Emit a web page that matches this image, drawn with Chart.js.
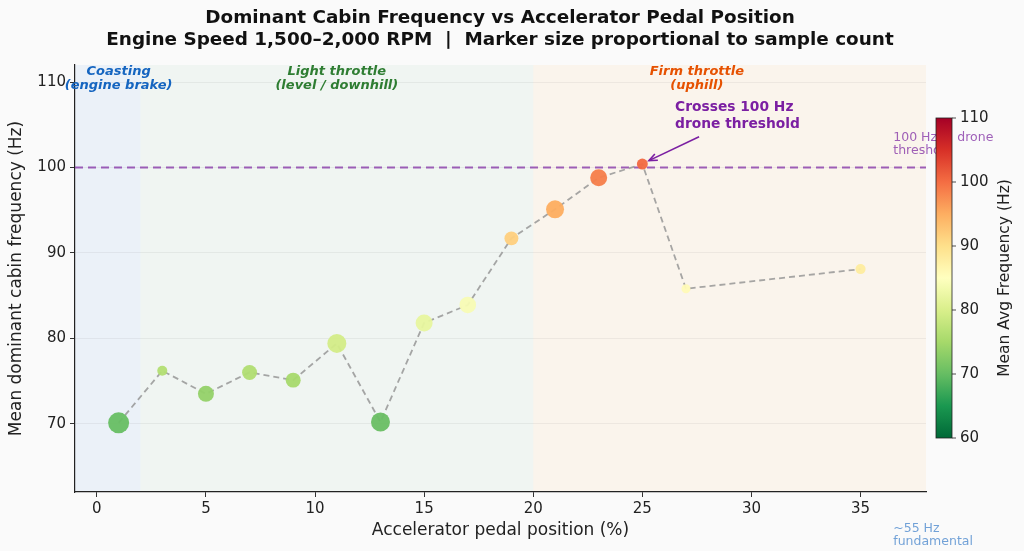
<!DOCTYPE html>
<html>
<head>
<meta charset="utf-8">
<script src="https://cdn.jsdelivr.net/npm/chart.js@4.4.1/dist/chart.umd.min.js"></script>
<style>
  html, body { margin: 0; padding: 0; background: #fafafa; }
  #chart { display: block; }
</style>
</head>
<body>
<canvas id="chart" width="1024" height="551"></canvas>
<script>
// Données
const pedalPos = [1, 3, 5, 7, 9, 11, 13, 15, 17, 19, 21, 23, 25, 27, 35];
const meanFreq = [70.1, 76.2, 73.5, 76.0, 75.1, 79.4, 70.2, 81.8, 83.9, 91.7, 95.1, 98.8, 100.4, 85.8, 88.1];
const sampleCount = [136, 31, 79, 69, 69, 111, 111, 89, 85, 60, 100, 89, 37, 25, 31];

const xTicks = [0, 5, 10, 15, 20, 25, 30, 35];
const yTicks = [70, 80, 90, 100, 110];
const cbTicks = [60, 70, 80, 90, 100, 110];

const zoneNames = ['Coasting', 'Light throttle', 'Firm throttle'];
const zoneSub = ['(engine brake)', '(level / downhill)', '(uphill)'];
const zoneStart = [-1, 2, 20];
const zoneEnd = [2, 20, 38];
const zoneLabelX = [1, 11, 27.5];

const droneThreshold = 100;
const cbMin = 60, cbMax = 110;

const FONT = "'DejaVu Sans', sans-serif";

// RdYlGn inversé (vert = bas, rouge = haut)
const rdylgn = ['#a50026', '#d73027', '#f46d43', '#fdae61', '#fee08b', '#ffffbf',
                '#d9ef8b', '#a6d96a', '#66bd63', '#1a9850', '#006837'];
function hexToRgb(h) {
    return [parseInt(h.slice(1, 3), 16), parseInt(h.slice(3, 5), 16), parseInt(h.slice(5, 7), 16)];
}
function cmap(v, alpha) {
    let t = (v - cbMin) / (cbMax - cbMin);
    t = Math.max(0, Math.min(1, t));
    const u = (1 - t) * (rdylgn.length - 1);
    const i = Math.min(Math.floor(u), rdylgn.length - 2);
    const f = u - i;
    const a = hexToRgb(rdylgn[i]), b = hexToRgb(rdylgn[i + 1]);
    const c = a.map((ch, k) => Math.round(ch + (b[k] - ch) * f));
    return `rgba(${c[0]},${c[1]},${c[2]},${alpha})`;
}

const zoneFill = ['rgba(66,140,230,0.08)', 'rgba(120,180,140,0.07)', 'rgba(255,200,120,0.1)'];
const zoneColor = ['#1565c0', '#2e7d32', '#e65100'];

// Fond + zones
const bandsPlugin = {
    id: 'bands',
    beforeDraw(chart) {
        const ctx = chart.ctx;
        const x = chart.scales.x, area = chart.chartArea;
        ctx.save();
        ctx.fillStyle = '#fafafa';
        ctx.fillRect(0, 0, chart.width, chart.height);
        zoneStart.forEach((s, i) => {
            const x0 = x.getPixelForValue(s), x1 = x.getPixelForValue(zoneEnd[i]);
            ctx.fillStyle = zoneFill[i];
            ctx.fillRect(x0, area.top, x1 - x0, area.bottom - area.top);
        });
        ctx.restore();
    }
};

// Textes, annotation et barre de couleur
const decorPlugin = {
    id: 'decor',
    afterDraw(chart) {
        const ctx = chart.ctx;
        const xs = chart.scales.x, ys = chart.scales.y, area = chart.chartArea;
        ctx.save();

        // Titre
        ctx.fillStyle = '#111';
        ctx.textAlign = 'center';
        ctx.textBaseline = 'middle';
        ctx.font = `bold 18.4px ${FONT}`;
        ctx.fillText('Dominant Cabin Frequency vs Accelerator Pedal Position', 500, 18);
        ctx.fillText('Engine Speed 1,500\u20132,000 RPM  |  Marker size proportional to sample count', 500, 40);

        // Zones
        ctx.font = `italic bold 13px ${FONT}`;
        zoneNames.forEach((n, i) => {
            const px = xs.getPixelForValue(zoneLabelX[i]);
            ctx.fillStyle = zoneColor[i];
            ctx.fillText(n, px, area.top + 7);
            ctx.fillText(zoneSub[i], px, area.top + 21);
        });

        // Seuil 100 Hz
        ctx.textAlign = 'left';
        ctx.font = `12.5px ${FONT}`;
        ctx.fillStyle = 'rgba(142,68,173,0.85)';
        const tx = xs.getPixelForValue(36.5);
        const ty = ys.getPixelForValue(droneThreshold);
        ctx.fillText('100 Hz', tx, ty - 30);
        ctx.fillText('drone', tx + 64, ty - 30);
        ctx.fillText('threshold', tx, ty - 17);

        // ~55 Hz
        ctx.fillStyle = 'rgba(21,101,192,0.6)';
        const fy = ys.getPixelForValue(55);
        ctx.fillText('~55 Hz', tx, fy - 23);
        ctx.fillText('fundamental', tx, fy - 10);

        // Annotation
        ctx.fillStyle = '#7b1fa2';
        ctx.font = `bold 13.8px ${FONT}`;
        const ax = xs.getPixelForValue(26.5);
        ctx.fillText('Crosses 100 Hz', ax, ys.getPixelForValue(107.0));
        ctx.fillText('drone threshold', ax, ys.getPixelForValue(105.0));

        const sx = xs.getPixelForValue(27.6), sy = ys.getPixelForValue(103.6);
        const ex = xs.getPixelForValue(25.3), ey = ys.getPixelForValue(100.8);
        ctx.strokeStyle = '#7b1fa2';
        ctx.lineWidth = 1.6;
        ctx.beginPath();
        ctx.moveTo(sx, sy);
        ctx.lineTo(ex, ey);
        ctx.stroke();
        const ang = Math.atan2(ey - sy, ex - sx);
        ctx.beginPath();
        ctx.moveTo(ex - 9 * Math.cos(ang - 0.4), ey - 9 * Math.sin(ang - 0.4));
        ctx.lineTo(ex, ey);
        ctx.lineTo(ex - 9 * Math.cos(ang + 0.4), ey - 9 * Math.sin(ang + 0.4));
        ctx.stroke();

        // Barre de couleur
        const cbL = 936, cbR = 952, cbT = 118, cbB = 438;
        const grad = ctx.createLinearGradient(0, cbB, 0, cbT);
        for (let k = 0; k <= 50; k++) {
            const v = cbMin + (cbMax - cbMin) * k / 50;
            grad.addColorStop(k / 50, cmap(v, 1));
        }
        ctx.fillStyle = grad;
        ctx.fillRect(cbL, cbT, cbR - cbL, cbB - cbT);
        ctx.strokeStyle = '#222';
        ctx.lineWidth = 0.8;
        ctx.strokeRect(cbL, cbT, cbR - cbL, cbB - cbT);

        ctx.fillStyle = '#222';
        ctx.font = `15px ${FONT}`;
        ctx.textBaseline = 'middle';
        cbTicks.forEach(v => {
            const py = cbB - (v - cbMin) / (cbMax - cbMin) * (cbB - cbT);
            ctx.beginPath();
            ctx.moveTo(cbR, py);
            ctx.lineTo(cbR + 4, py);
            ctx.stroke();
            ctx.fillText(String(v), cbR + 8, py);
        });
        ctx.translate(1005, (cbT + cbB) / 2);
        ctx.rotate(-Math.PI / 2);
        ctx.textAlign = 'center';
        ctx.font = `15.5px ${FONT}`;
        ctx.fillText('Mean Avg Frequency (Hz)', 0, 0);

        ctx.restore();
    }
};

const points = pedalPos.map((p, i) => ({ x: p, y: meanFreq[i] }));

const chart = new Chart(document.getElementById('chart'), {
    type: 'scatter',
    data: {
        datasets: [
            {
                // ligne de seuil
                data: [{ x: -1, y: droneThreshold }, { x: 38, y: droneThreshold }],
                showLine: true,
                borderColor: 'rgba(142,68,173,0.85)',
                borderWidth: 2,
                borderDash: [8, 5],
                pointRadius: 0,
                order: 3
            },
            {
                // tracé pointillé
                data: points,
                showLine: true,
                borderColor: 'rgba(150,150,150,0.85)',
                borderWidth: 1.8,
                borderDash: [6, 4],
                pointRadius: 0,
                order: 2
            },
            {
                data: points,
                pointRadius: sampleCount.map(n => 0.9 * Math.sqrt(n)),
                pointBackgroundColor: meanFreq.map(v => cmap(v, 0.95)),
                pointBorderWidth: 0,
                order: 1
            }
        ]
    },
    options: {
        responsive: false,
        animation: false,
        devicePixelRatio: 1,
        layout: { padding: { left: 4, right: 98, top: 65, bottom: 8 } },
        plugins: { legend: { display: false }, tooltip: { enabled: false } },
        scales: {
            x: {
                type: 'linear',
                min: -1,
                max: 38,
                afterBuildTicks: s => { s.ticks = xTicks.map(v => ({ value: v })); },
                afterFit: s => { s.height = 51; },
                grid: { drawOnChartArea: false, tickLength: 5, tickColor: '#333' },
                border: { color: '#222', width: 1.2 },
                ticks: { color: '#222', font: { family: FONT, size: 15 }, padding: 3 },
                title: {
                    display: true,
                    text: 'Accelerator pedal position (%)',
                    color: '#222',
                    font: { family: FONT, size: 17 },
                    padding: { top: 2, bottom: 2 }
                }
            },
            y: {
                min: 62,
                max: 112,
                afterBuildTicks: s => { s.ticks = yTicks.map(v => ({ value: v })); },
                afterFit: s => { s.width = 71; },
                grid: { color: 'rgba(0,0,0,0.05)', tickLength: 5, tickColor: '#333' },
                border: { color: '#222', width: 1.2 },
                ticks: { color: '#222', font: { family: FONT, size: 15 }, padding: 4 },
                title: {
                    display: true,
                    text: 'Mean dominant cabin frequency (Hz)',
                    color: '#222',
                    font: { family: FONT, size: 17 },
                    padding: { top: 2, bottom: 2 }
                }
            }
        }
    },
    plugins: [bandsPlugin, decorPlugin]
});
</script>
</body>
</html>
